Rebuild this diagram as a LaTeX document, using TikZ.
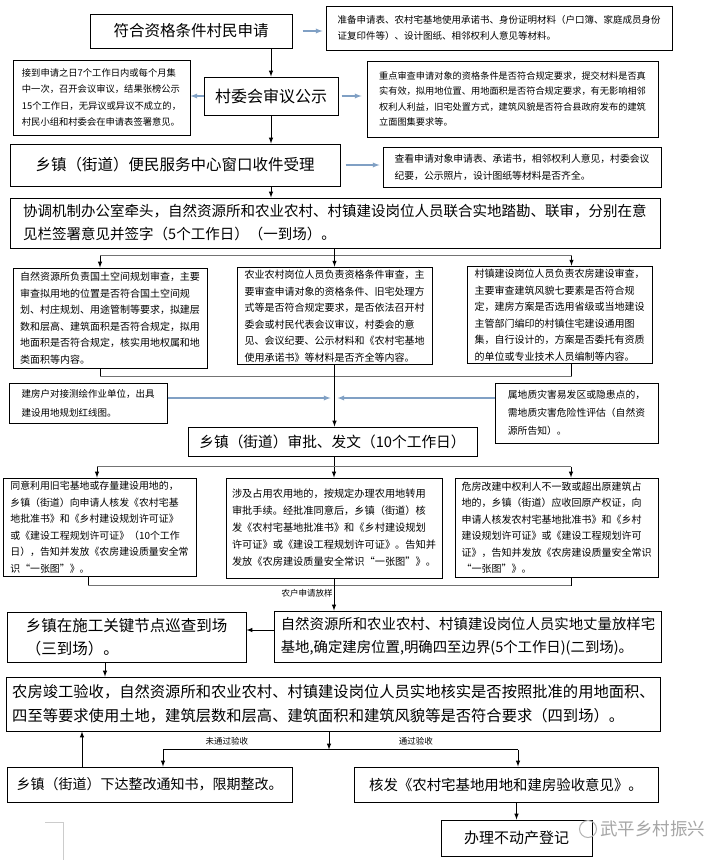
\documentclass[tikz,border=0pt]{standalone}
\usepackage{fontspec}
\setmainfont{Noto Sans CJK SC}
\usepackage{tikz}
\usepackage{xcolor}
\definecolor{notearrow}{RGB}{128,160,196}

\begin{document}
\begin{tikzpicture}[x=1pt, y=-1pt, >=latex,
    mainbox/.style={draw, line width=1pt, align=left, inner xsep=6pt, inner ysep=3pt, font=\fontsize{15}{23}\selectfont},
    notebox/.style={draw, line width=1pt, align=left, inner xsep=6pt, inner ysep=3pt, font=\fontsize{10}{16.5}\selectfont},
    flow/.style={->, line width=1pt},
    hint/.style={->, line width=1.3pt, notearrow},
    joint/.style={line width=0.9pt, black!55},
    tag/.style={font=\fontsize{8.5}{10}\selectfont, inner sep=1pt}]

    \fill[white] (0,0) rectangle (715,862);
    \useasboundingbox (0,0) rectangle (715,862);

    % application and village committee
    \node[mainbox, font=\fontsize{15.5}{23}\selectfont, minimum width=202pt, minimum height=34pt] at (191,31) (apply) {符合资格条件村民申请};
    \node[notebox, font=\fontsize{9.5}{16}\selectfont, minimum width=346pt, minimum height=44pt] at (499,28) (prepnote) {准备申请表、农村宅基地使用承诺书、身份证明材料（户口簿、家庭成员身份\\证复印件等）、设计图纸、相邻权利人意见等材料。};
    \node[mainbox, font=\fontsize{16}{23}\selectfont, minimum width=134pt, minimum height=38pt] at (271,96) (review) {村委会审议公示};
    \node[notebox, font=\fontsize{9.3}{16.5}\selectfont, minimum width=177pt, minimum height=75pt] at (101.5,97.5) (meetnote) {接到申请之日7个工作日内或每个月集\\中一次，召开会议审议，结果张榜公示\\15个工作日，无异议或异议不成立的，\\村民小组和村委会在申请表签署意见。};
    \node[notebox, font=\fontsize{9.2}{15.5}\selectfont, minimum width=291pt, minimum height=76pt] at (512.5,99) (checknote) {重点审查申请对象的资格条件是否符合规定要求，提交材料是否真\\实有效，拟用地位置、用地面积是否符合规定要求，有无影响相邻\\权利人利益，旧宅处置方式，建筑风貌是否符合县政府发布的建筑\\立面图集要求等。};

    \draw[hint, shorten <=10pt, shorten >=3pt] (apply.east) -- (apply.east -| prepnote.west);
    \draw[flow] (review.north |- apply.south) -- (review.north);
    \draw[hint] (review.west) -- (review.west -| meetnote.east);
    \draw[hint, shorten <=3pt, shorten >=5pt] (review.east) -- (review.east -| checknote.west);

    % service window
    \node[mainbox, font=\fontsize{15.5}{23}\selectfont, minimum width=330pt, minimum height=42pt] at (175,165) (window) {乡镇（街道）便民服务中心窗口收件受理};
    \node[notebox, font=\fontsize{9.8}{17}\selectfont, minimum width=278pt, minimum height=40pt] at (522,167) (filenote) {查看申请对象申请表、承诺书，相邻权利人意见，村委会议\\纪要，公示照片，设计图纸等材料是否齐全。};
    \draw[flow] (review.south) -- (review.south |- window.north);
    \draw[hint, shorten <=5pt, shorten >=3pt] (window.east) -- (window.east -| filenote.west);

    % joint survey
    \node[mainbox, font=\fontsize{14.5}{23}\selectfont, minimum width=650pt, minimum height=50pt] at (335,223) (survey) {协调机制办公室牵头，自然资源所和农业农村、村镇建设岗位人员联合实地踏勘、联审，分别在意\\见栏签署意见并签字（5个工作日）（一到场）。};
    \draw[flow] (window.south -| review.south) -- (review.south |- survey.north);

    % three reviews
    \node[notebox, minimum width=194pt, minimum height=100pt] at (110,318) (land) {自然资源所负责国土空间规划审查，主要\\审查拟用地的位置是否符合国土空间规\\划、村庄规划、用途管制等要求，拟建层\\数和层高、建筑面积是否符合规定，拟用\\地面积是否符合规定，核实用地权属和地\\类面积等内容。};
    \node[notebox, minimum width=195pt, minimum height=96pt] at (334.5,316) (agri) {农业农村岗位人员负责资格条件审查，主\\要审查申请对象的资格条件、旧宅处理方\\式等是否符合规定要求，是否依法召开村\\委会或村民代表会议审议，村委会的意\\见、会议纪要、公示材料和《农村宅基地\\使用承诺书》等材料是否齐全等内容。};
    \node[notebox, minimum width=185pt, minimum height=96pt] at (559.5,315) (cons) {村镇建设岗位人员负责农房建设审查，\\主要审查建筑风貌七要素是否符合规\\定，建房方案是否选用省级或当地建设\\主管部门编印的村镇住宅建设通用图\\集，自行设计的，方案是否委托有资质\\的单位或专业技术人员编制等内容。};

    \coordinate (split1) at ([yshift=-7pt]survey.south);
    \coordinate (landin) at ([xshift=-10pt]land.north);
    \coordinate (consin) at ([xshift=12pt]cons.north);
    \draw[line width=1pt] (survey.south -| agri.north) -- (agri.north |- split1);
    \draw[joint] (landin |- split1) -- (consin |- split1);
    \draw[flow] (survey.south -| agri.north) -- (agri.north);
    \draw[flow] (landin |- split1) -- (landin);
    \draw[flow] (consin |- split1) -- (consin);

    % approval
    \node[notebox, font=\fontsize{9.5}{19}\selectfont, minimum width=158pt, minimum height=40pt] at (88,403) (mapnote) {建房户对接测绘作业单位，出具\\建设用地规划红线图。};
    \node[notebox, font=\fontsize{9.8}{18}\selectfont, minimum width=163pt, minimum height=60pt] at (576.5,413) (hazardnote) {属地质灾害易发区或隐患点的，\\需地质灾害危险性评估（自然资\\源所告知）。};
    \node[mainbox, font=\fontsize{14.7}{23}\selectfont, minimum width=289pt, minimum height=29pt] at (332.5,441.5) (approve) {乡镇（街道）审批、发文（10个工作日）};

    \coordinate (merge1) at ([yshift=-11pt]agri.south);
    \coordinate (landout) at ([xshift=-10pt]land.south);
    \coordinate (consout) at ([xshift=12pt]cons.south);
    \draw[line width=1pt] (landout) -- (landout |- merge1);
    \draw[line width=1pt] (consout) -- (consout |- merge1);
    \draw[joint] (landout |- merge1) -- (consout |- merge1);
    \draw[flow] (agri.south) -- (agri.south |- approve.north);
    \coordinate (mapin) at ([yshift=5pt]mapnote.east);
    \coordinate (hazin) at ([yshift=15pt]hazardnote.west);
    \draw[hint, shorten >=4pt] (mapin) -- (mapin -| agri.south);
    \draw[hint, shorten >=3pt] (hazin) -- (hazin -| agri.south);

    % issuing permits
    \node[notebox, font=\fontsize{9.9}{16.5}\selectfont, minimum width=193pt, minimum height=98pt] at (99.5,527) (reuse) {同意利用旧宅基地或存量建设用地的，\\乡镇（街道）向申请人核发《农村宅基\\地批准书》和《乡村建设规划许可证》\\或《建设工程规划许可证》（10个工作\\日），告知并发放《农房建设质量安全常\\识“一张图”》。};
    \node[notebox, font=\fontsize{10.2}{17}\selectfont, minimum width=214pt, minimum height=100pt] at (334,528) (farm) {涉及占用农用地的，按规定办理农用地转用\\审批手续。经批准同意后，乡镇（街道）核\\发《农村宅基地批准书》和《乡村建设规划\\许可证》或《建设工程规划许可证》。告知并\\发放《农房建设质量安全常识“一张图”》。};
    \node[notebox, inner xsep=5pt, minimum width=203pt, minimum height=99pt] at (556.5,527.5) (recon) {危房改建中权利人不一致或超出原建筑占\\地的，乡镇（街道）应收回原产权证，向\\申请人核发农村宅基地批准书》和《乡村\\建设规划许可证》或《建设工程规划许可\\证》，告知并发放《农房建设质量安全常识\\ “一张图”》。};

    \coordinate (split2) at ([yshift=-10pt]approve.south);
    \coordinate (reusein) at ([xshift=-2.5pt]reuse.north);
    \coordinate (reconin) at ([xshift=14.5pt]recon.north);
    \draw[flow] (approve.south -| farm.north) -- (farm.north);
    \draw[joint] (reusein |- split2) -- (reconin |- split2);
    \draw[flow] (reusein |- split2) -- (reusein);
    \draw[flow] (reconin |- split2) -- (reconin);

    % stake-out and inspection
    \node[mainbox, font=\fontsize{14.4}{23}\selectfont, minimum width=384pt, minimum height=51pt] at (468,636.5) (stake) {自然资源所和农业农村、村镇建设岗位人员实地丈量放样宅\\基地,确定建房位置,明确四至边界(5个工作日)(二到场)。};
    \node[mainbox, font=\fontsize{15.5}{23}\selectfont, minimum width=239pt, minimum height=50pt] at (126.5,637) (inspect) {乡镇在施工关键节点巡查到场\\（三到场）。};

    \coordinate (merge2) at ([yshift=-7pt]farm.south);
    \coordinate (reuseout) at ([xshift=-11.5pt]reuse.south);
    \coordinate (reconout) at ([xshift=14.5pt]recon.south);
    \draw[line width=1pt] (reuseout) -- (reuseout |- merge2);
    \draw[line width=1pt] (reconout) -- (reconout |- merge2);
    \draw[joint] (reuseout |- merge2) -- (reconout |- merge2);
    \draw[flow] (farm.south) -- node[tag, left, pos=0.45] (asktag) {农户申请放样} (farm.south |- stake.north);
    \coordinate (stakeout) at ([yshift=6.5pt]stake.west);
    \draw[flow] (stakeout) -- (stakeout -| inspect.east);

    % completion check
    \node[mainbox, font=\fontsize{15.3}{24}\selectfont, minimum width=653pt, minimum height=54pt] at (333.5,704) (accept) {农房竣工验收，自然资源所和农业农村、村镇建设岗位人员实地核实是否按照批准的用地面积、\\四至等要求使用土地，建筑层数和层高、建筑面积和建筑风貌等是否符合要求（四到场）。};
    \coordinate (inspout) at ([xshift=-21.5pt]inspect.south);
    \draw[flow] (inspout) -- (inspout |- accept.north);

    \node[mainbox, font=\fontsize{14}{20}\selectfont, minimum width=285pt, minimum height=35pt] at (149.5,784.5) (rectify) {乡镇（街道）下达整改通知书，限期整改。};
    \node[mainbox, font=\fontsize{14.4}{20}\selectfont, minimum width=304pt, minimum height=35pt] at (506,784.5) (issue) {核发《农村宅基地用地和建房验收意见》。};
    \node[mainbox, font=\fontsize{15}{20}\selectfont, minimum width=151pt, minimum height=36pt] at (516.5,838) (register) {办理不动产登记};

    \coordinate (accout) at ([xshift=-4.5pt]accept.south);
    \coordinate (split3) at ([yshift=-18pt]accout);
    \coordinate (rectin) at ([xshift=13.5pt]rectify.north);
    \coordinate (issuein) at ([xshift=12pt]issue.north);
    \draw[flow] (accout) -- (split3);
    \draw[line width=1pt] (rectin |- split3) -- node[tag, above=3pt, pos=0.18] (failtag) {未通过验收} (issuein |- split3);
    \path (split3) -- node[tag, above=3pt, pos=0.46] (passtag) {通过验收} (issuein |- split3);
    \draw[flow] (rectin |- split3) -- (rectin);
    \draw[flow] (issuein |- split3) -- (issuein);
    \coordinate (rectback) at ([xshift=-67.5pt]rectify.north);
    \draw[flow] (rectback) -- (rectback |- accept.south);
    \draw[flow] (register.north |- issue.south) -- (register.north);

    % watermark
    \draw[black!30, line width=1pt] (588,829) circle[radius=8.5pt];
    \node[text=black!35, font=\fontsize{17.5}{18}\selectfont, anchor=west, inner sep=1pt] at (599,829) (mark) {武平乡村振兴};
    \draw[black!20, line width=1pt] (45,822) -- (63,822) -- (63,860);
\end{tikzpicture}
\end{document}
